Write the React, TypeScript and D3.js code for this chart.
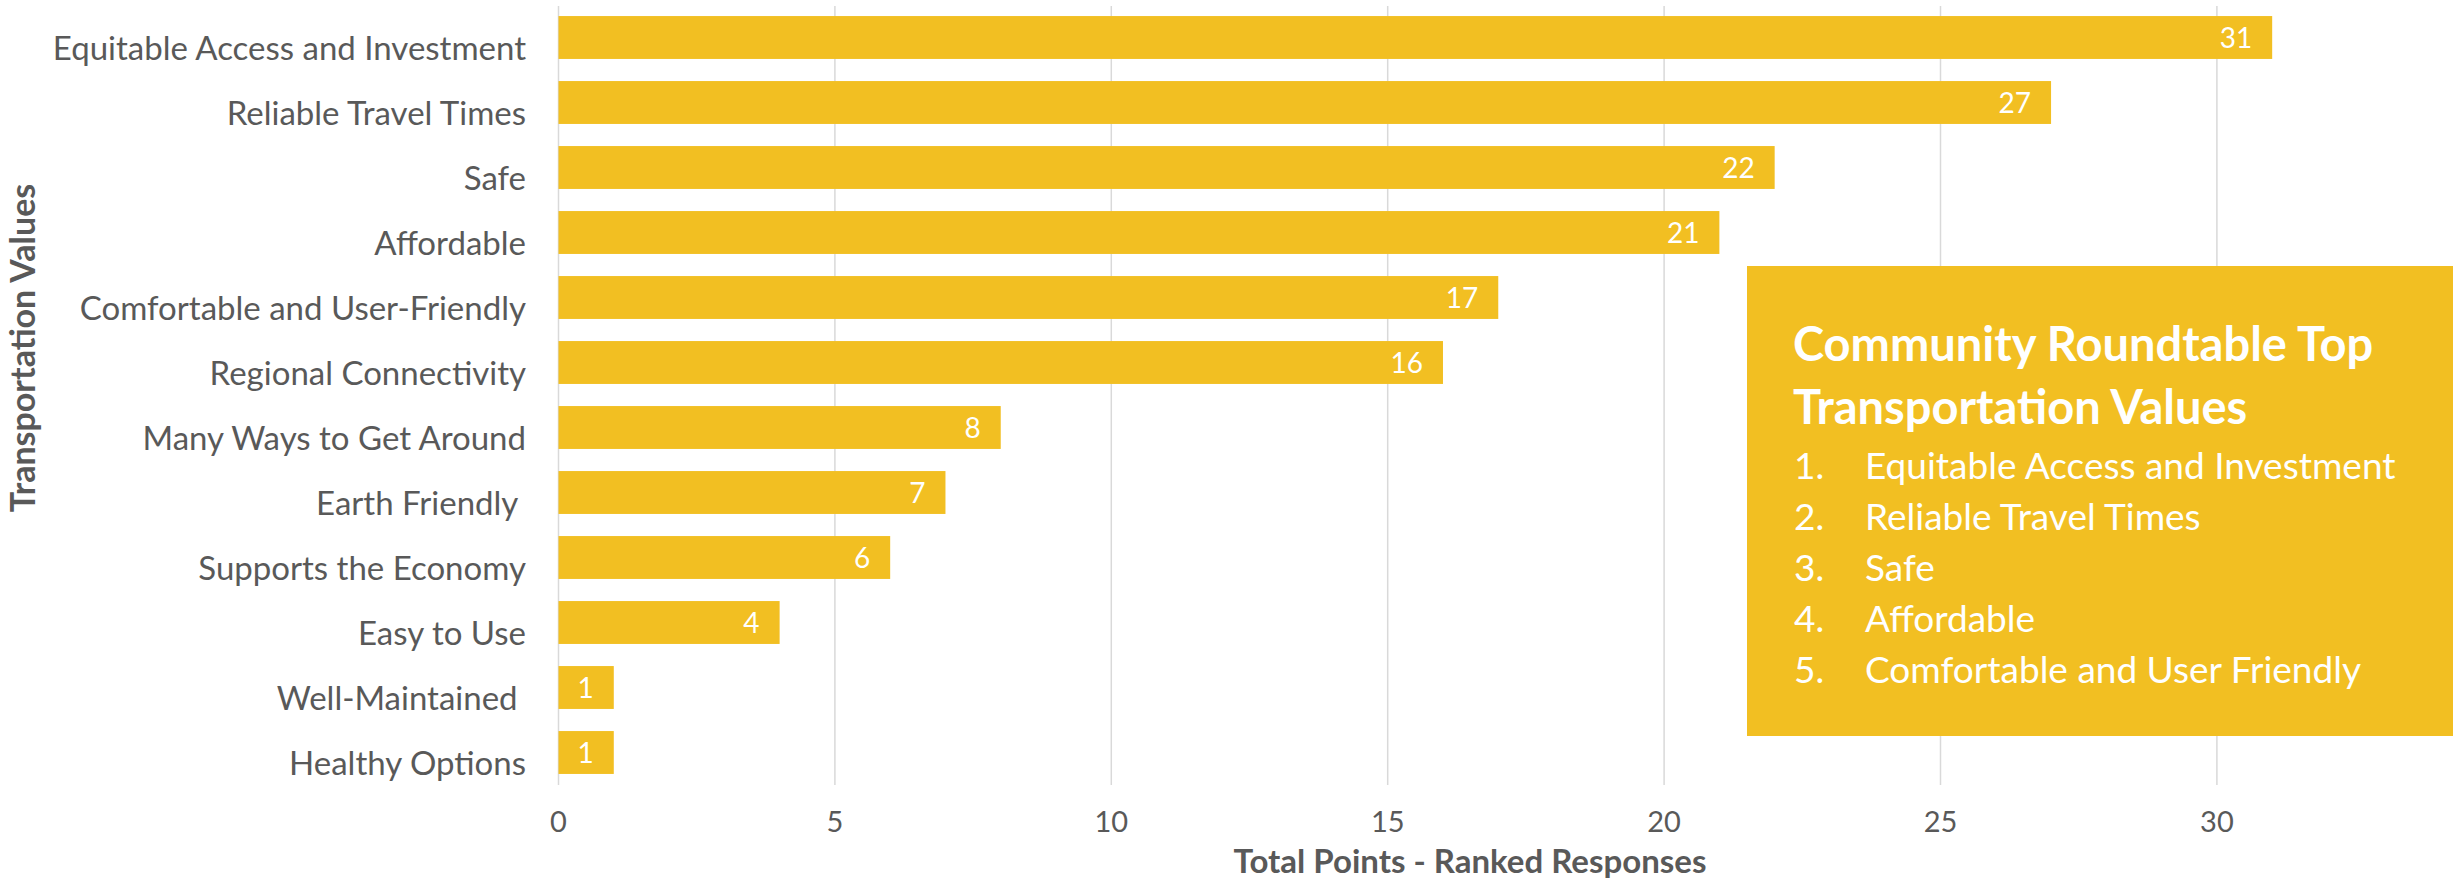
import React from "react";
import * as d3 from "d3";

const categories = [
  "Equitable Access and Investment",
  "Reliable Travel Times",
  "Safe",
  "Affordable",
  "Comfortable and User-Friendly",
  "Regional Connectivity",
  "Many Ways to Get Around",
  "Earth Friendly ",
  "Supports the Economy",
  "Easy to Use",
  "Well-Maintained ",
  "Healthy Options",
];
const values = [31, 27, 22, 21, 17, 16, 8, 7, 6, 4, 1, 1];
const xTicks = [0, 5, 10, 15, 20, 25, 30];
const boxTitle = ["Community Roundtable Top", "Transportation Values"];
const topValues = [
  "Equitable Access and Investment",
  "Reliable Travel Times",
  "Safe",
  "Affordable",
  "Comfortable and User Friendly",
];

const W = 2453;
const H = 885;
const GOLD = "#F2BF22";
const TEXT = "#595959";
const GRID = "#D9D9D9";
const FONT = "Lato, 'Open Sans', sans-serif";

export default function App() {
  React.useEffect(() => {
    document.body.style.margin = "0";
  }, []);

  const x0 = 558.5;
  const unit = 55.28;
  const x = d3.scaleLinear().domain([0, 35]).range([x0, x0 + 35 * unit]);
  const y = d3
    .scaleBand<string>()
    .domain(categories)
    .range([5, 785])
    .paddingInner(0.34)
    .paddingOuter(0.17);

  const box = { x: 1747, y: 266, w: W - 1747, h: 470 };

  return (
    <svg width={W} height={H} style={{ display: "block", background: "#fff" }} fontFamily={FONT}>
      {/* gridlines */}
      {xTicks.map((t) => (
        <line
          key={"g" + t}
          x1={x(t)}
          x2={x(t)}
          y1={6}
          y2={785}
          stroke={GRID}
          strokeWidth={1.5}
        />
      ))}
      {/* bars */}
      {categories.map((c, i) => (
        <g key={c}>
          <rect x={x(0)} y={y(c)} width={x(values[i]) - x(0)} height={y.bandwidth()} fill={GOLD} />
          <text
            x={x(values[i]) - 20}
            y={(y(c) as number) + y.bandwidth() / 2 + 10}
            textAnchor="end"
            fill="#fff"
            fontSize={28}
          >
            {values[i]}
          </text>
          <text
            x={526}
            y={(y(c) as number) + y.bandwidth() / 2 + 22}
            textAnchor="end"
            fill={TEXT}
            fontSize={33}
            style={{ whiteSpace: "pre" }}
          >
            {c}
          </text>
        </g>
      ))}
      {/* x tick labels */}
      {xTicks.map((t) => (
        <text key={"t" + t} x={x(t)} y={832} textAnchor="middle" fill={TEXT} fontSize={29}>
          {t}
        </text>
      ))}
      {/* axis titles */}
      <text x={1470} y={873} textAnchor="middle" fill={TEXT} fontSize={33} fontWeight="bold">
        Total Points - Ranked Responses
      </text>
      <text
        transform="translate(35,348) rotate(-90)"
        textAnchor="middle"
        fill={TEXT}
        fontSize={34}
        fontWeight="bold"
      >
        Transportation Values
      </text>
      {/* callout box */}
      <rect x={box.x} y={box.y} width={box.w} height={box.h} fill={GOLD} />
      {boxTitle.map((line, i) => (
        <text key={line} x={1793} y={361 + i * 63} fill="#fff" fontSize={47} fontWeight="bold">
          {line}
        </text>
      ))}
      {topValues.map((v, i) => (
        <g key={v}>
          <text x={1794} y={479 + i * 51} fill="#fff" fontSize={37}>
            {i + 1 + "."}
          </text>
          <text x={1865} y={479 + i * 51} fill="#fff" fontSize={37}>
            {v}
          </text>
        </g>
      ))}
    </svg>
  );
}
